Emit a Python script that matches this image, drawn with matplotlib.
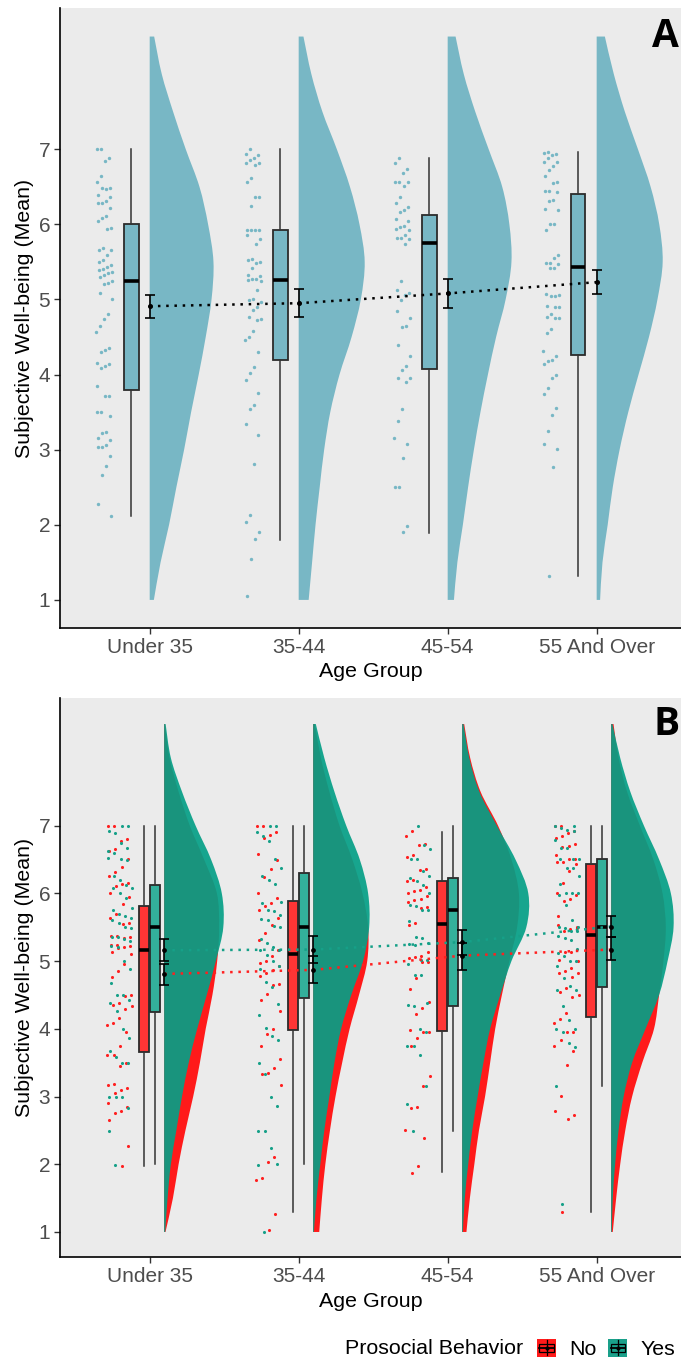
import numpy as np
import matplotlib
matplotlib.use('Agg')
import matplotlib.pyplot as plt
from matplotlib.patches import Rectangle, Patch, PathPatch
from matplotlib.path import Path
from matplotlib.lines import Line2D
from matplotlib.legend_handler import HandlerBase

plt.rcParams['font.family'] = ['Liberation Sans', 'DejaVu Sans']

# ---- data ----
groups = ['Under 35', '35-44', '45-54', '55 And Over']

# panel A, raw points per age group
a_u35 = [7.00, 7.00, 6.88, 6.84, 6.65, 6.57, 6.48, 6.47, 6.49, 6.39, 6.36, 6.31, 6.29, 6.28, 6.22,
         6.11, 6.08, 6.05, 5.95, 5.94, 5.68, 5.66, 5.66, 5.59, 5.52, 5.50, 5.46, 5.43, 5.41, 5.39,
         5.37, 5.35, 5.33, 5.30, 5.25, 5.22, 5.20, 5.08, 5.01, 4.81, 4.74, 4.65, 4.56, 4.35, 4.33,
         4.30, 4.16, 4.14, 4.12, 4.09, 3.85, 3.72, 3.72, 3.50, 3.50, 3.45, 3.24, 3.22, 3.16, 3.13,
         3.06, 3.04, 3.03, 2.92, 2.78, 2.66, 2.28, 2.12]
a_35_44 = [7.00, 6.94, 6.92, 6.88, 6.86, 6.82, 6.81, 6.79, 6.62, 6.56, 6.37, 6.37, 6.25, 5.93, 5.92,
           5.92, 5.92, 5.86, 5.81, 5.74, 5.54, 5.52, 5.50, 5.49, 5.42, 5.32, 5.31, 5.27, 5.27, 5.26,
           5.24, 5.12, 5.00, 4.99, 4.96, 4.90, 4.86, 4.77, 4.74, 4.73, 4.58, 4.50, 4.46, 4.30, 4.10,
           4.02, 3.93, 3.75, 3.59, 3.54, 3.34, 3.19, 2.81, 2.13, 2.04, 1.90, 1.81, 1.55, 1.05]
a_45_54 = [6.88, 6.81, 6.74, 6.69, 6.57, 6.57, 6.57, 6.51, 6.36, 6.29, 6.23, 6.19, 6.17, 6.07, 6.04,
           5.98, 5.96, 5.94, 5.92, 5.86, 5.82, 5.82, 5.81, 5.74, 5.25, 5.13, 5.08, 5.06, 4.99, 4.85,
           4.75, 4.64, 4.63, 4.39, 4.25, 4.11, 4.06, 3.96, 3.95, 3.90, 3.54, 3.38, 3.15, 3.08, 2.89,
           2.50, 2.50, 1.98, 1.90]
a_55_over = [6.96, 6.95, 6.94, 6.92, 6.88, 6.83, 6.83, 6.77, 6.72, 6.65, 6.56, 6.55, 6.45, 6.45, 6.43,
             6.32, 6.31, 6.21, 6.19, 6.01, 6.00, 5.93, 5.59, 5.55, 5.49, 5.48, 5.47, 5.42, 5.42, 5.07,
             5.06, 5.04, 5.04, 4.91, 4.90, 4.90, 4.81, 4.76, 4.75, 4.75, 4.61, 4.55, 4.32, 4.25, 4.19,
             4.18, 4.14, 3.99, 3.96, 3.82, 3.74, 3.56, 3.46, 3.25, 3.08, 3.01, 2.77, 1.32]

# box stats: whisker low, q1, median, q3, whisker high
a_box = [[2.12, 3.79, 5.24, 6.00, 7.00],
         [1.80, 4.20, 5.26, 5.92, 7.00],
         [1.89, 4.08, 5.75, 6.12, 6.88],
         [1.32, 4.26, 5.43, 6.41, 6.96]]
a_mean = [4.91, 4.95, 5.08, 5.23]
a_ci_lo = [4.75, 4.76, 4.89, 5.07]
a_ci_hi = [5.06, 5.14, 5.27, 5.39]

# density half-widths at these levels
dens_y = [1.0, 1.5, 2.0, 2.5, 3.0, 3.5, 4.0, 4.5, 5.0, 5.5, 6.0, 6.5, 7.0, 7.5, 8.0, 8.5]
a_dens = [[0.028, 0.073, 0.130, 0.179, 0.231, 0.278, 0.329, 0.376, 0.415, 0.428, 0.392, 0.334, 0.242, 0.157, 0.081, 0.030],
          [0.067, 0.090, 0.113, 0.141, 0.171, 0.212, 0.274, 0.355, 0.417, 0.443, 0.408, 0.344, 0.256, 0.159, 0.085, 0.032],
          [0.042, 0.065, 0.102, 0.137, 0.176, 0.220, 0.270, 0.325, 0.389, 0.428, 0.414, 0.366, 0.275, 0.185, 0.108, 0.053],
          [0.023, 0.039, 0.074, 0.108, 0.154, 0.212, 0.281, 0.351, 0.408, 0.443, 0.420, 0.362, 0.277, 0.189, 0.115, 0.055]]

# panel B, points split by prosocial behaviour
b_no_u35 = [7.00, 7.00, 6.80, 6.78, 6.66, 6.62, 6.50, 6.39, 6.32, 6.25, 6.16, 6.14, 6.11, 6.00, 5.95,
            5.84, 5.70, 5.64, 5.56, 5.55, 5.37, 5.37, 5.35, 5.34, 5.24, 5.23, 5.22, 5.21, 5.20, 5.13,
            5.11, 4.96, 4.86, 4.77, 4.50, 4.49, 4.38, 4.35, 4.33, 4.29, 4.16, 4.08, 4.06, 3.95, 3.74,
            3.62, 3.62, 3.49, 3.45, 3.19, 3.17, 3.12, 3.10, 3.05, 2.91, 2.85, 2.79, 2.76, 2.66, 2.27, 1.98]
b_yes_u35 = [7.00, 7.00, 6.92, 6.89, 6.75, 6.67, 6.62, 6.60, 6.51, 6.49, 6.52, 6.25, 6.20, 6.13, 6.08,
             6.08, 6.00, 5.93, 5.78, 5.75, 5.70, 5.66, 5.64, 5.60, 5.56, 5.50, 5.49, 5.36, 5.35, 5.32,
             5.29, 5.22, 5.21, 5.00, 4.88, 4.67, 4.50, 4.50, 4.42, 4.38, 4.26, 4.00, 3.87, 3.67, 3.59,
             3.49, 3.49, 3.00, 2.99, 2.99, 2.83, 2.49, 1.99]
b_no_35_44 = [7.00, 7.00, 6.91, 6.86, 6.81, 6.58, 6.49, 6.36, 6.24, 6.00, 5.93, 5.86, 5.82, 5.75, 5.63,
              5.53, 5.42, 5.31, 5.16, 5.07, 5.00, 4.97, 4.93, 4.87, 4.83, 4.78, 4.66, 4.64, 4.52, 4.43,
              4.27, 3.99, 3.92, 3.75, 3.56, 3.42, 3.34, 3.33, 3.17, 2.11, 2.04, 1.80, 1.77, 1.27, 1.03]
b_yes_35_44 = [7.00, 7.00, 6.91, 6.84, 6.78, 6.50, 6.37, 6.25, 6.19, 6.14, 5.87, 5.86, 5.75, 5.74, 5.68,
               5.62, 5.60, 5.52, 5.50, 5.33, 5.27, 5.21, 5.16, 5.16, 5.09, 5.00, 4.93, 4.88, 4.69, 4.61,
               4.37, 4.21, 4.01, 3.89, 3.83, 3.49, 3.33, 3.00, 2.86, 2.49, 2.49, 2.24, 2.01, 1.99, 1.00]
b_no_45_54 = [6.92, 6.85, 6.73, 6.72, 6.57, 6.54, 6.36, 6.34, 6.19, 6.18, 6.10, 6.05, 6.04, 6.00, 5.96,
              5.92, 5.90, 5.87, 5.80, 5.78, 5.56, 5.54, 5.14, 5.07, 5.06, 5.04, 4.99, 4.98, 4.75, 4.59,
              4.40, 4.31, 4.22, 3.98, 3.96, 3.95, 3.86, 3.74, 3.30, 3.15, 2.84, 2.83, 2.50, 2.39, 1.98, 1.87]
b_yes_45_54 = [7.00, 6.72, 6.65, 6.51, 6.50, 6.33, 6.25, 6.23, 6.18, 6.13, 6.00, 5.83, 5.81, 5.76, 5.76,
               5.59, 5.35, 5.34, 5.26, 5.25, 5.24, 5.02, 5.01, 4.96, 4.80, 4.80, 4.38, 4.35, 4.33, 4.00,
               3.95, 3.75, 3.75, 3.62, 3.15, 2.89, 2.49]
b_no_55_over = [7.00, 7.00, 6.92, 6.89, 6.85, 6.82, 6.73, 6.70, 6.68, 6.57, 6.51, 6.51, 6.47, 6.46, 6.44,
                6.33, 6.16, 6.00, 5.98, 5.91, 5.88, 5.66, 5.49, 5.47, 5.45, 5.54, 5.51, 5.14, 5.13, 5.01,
                5.00, 4.90, 4.85, 4.83, 4.83, 4.77, 4.60, 4.54, 4.50, 4.47, 4.23, 4.15, 4.09, 3.96, 3.96,
                3.83, 3.74, 3.67, 3.46, 3.01, 2.79, 2.72, 2.67, 1.29]
b_yes_55_over = [7.00, 6.99, 6.97, 6.94, 6.92, 6.79, 6.67, 6.67, 6.51, 6.51, 6.50, 6.37, 6.37, 6.25, 6.14,
                 6.00, 6.00, 6.00, 5.97, 5.83, 5.61, 5.50, 5.50, 5.49, 5.45, 5.44, 5.37, 5.34, 5.31, 5.18,
                 5.12, 5.07, 5.00, 5.00, 4.93, 4.75, 4.63, 4.58, 4.58, 4.33, 4.13, 4.00, 4.00, 3.95, 3.79,
                 3.73, 3.16, 1.41]

b_no_box = [[1.98, 3.66, 5.17, 5.81, 7.00],
            [1.29, 3.98, 5.10, 5.88, 7.00],
            [1.88, 3.97, 5.55, 6.18, 6.91],
            [1.30, 4.18, 5.38, 6.43, 7.00]]
b_yes_box = [[2.00, 4.25, 5.50, 6.12, 7.00],
             [2.00, 4.45, 5.50, 6.30, 7.00],
             [2.49, 4.33, 5.75, 6.22, 7.00],
             [3.16, 4.62, 5.50, 6.50, 7.00]]
b_no_mean = [4.81, 4.87, 5.08, 5.17]
b_no_lo = [4.65, 4.68, 4.87, 5.01]
b_no_hi = [4.96, 5.07, 5.27, 5.35]
b_yes_mean = [5.16, 5.17, 5.28, 5.51]
b_yes_lo = [5.00, 4.97, 5.09, 5.35]
b_yes_hi = [5.32, 5.37, 5.46, 5.67]

b_no_dens = [[0.009, 0.059, 0.097, 0.143, 0.195, 0.240, 0.279, 0.324, 0.356, 0.369, 0.354, 0.268, 0.172, 0.097, 0.036, 0.005],
             [0.041, 0.059, 0.082, 0.113, 0.150, 0.195, 0.245, 0.308, 0.363, 0.369, 0.331, 0.263, 0.177, 0.109, 0.052, 0.011],
             [0.029, 0.052, 0.082, 0.113, 0.154, 0.188, 0.222, 0.267, 0.317, 0.369, 0.381, 0.331, 0.241, 0.124, 0.054, 0.014],
             [0.011, 0.034, 0.061, 0.095, 0.141, 0.209, 0.288, 0.322, 0.351, 0.367, 0.345, 0.283, 0.193, 0.107, 0.050, 0.016]]
b_yes_dens = [[0.007, 0.023, 0.045, 0.082, 0.120, 0.165, 0.222, 0.286, 0.347, 0.397, 0.387, 0.315, 0.211, 0.120, 0.045, 0.010],
              [0.005, 0.023, 0.048, 0.075, 0.109, 0.143, 0.188, 0.256, 0.335, 0.376, 0.369, 0.313, 0.222, 0.143, 0.075, 0.018],
              [0.005, 0.018, 0.041, 0.068, 0.104, 0.143, 0.188, 0.256, 0.331, 0.431, 0.444, 0.358, 0.233, 0.116, 0.048, 0.009],
              [0.005, 0.011, 0.027, 0.050, 0.084, 0.141, 0.231, 0.322, 0.379, 0.419, 0.401, 0.322, 0.220, 0.129, 0.061, 0.009]]

a_points = [a_u35, a_35_44, a_45_54, a_55_over]
b_no_points = [b_no_u35, b_no_35_44, b_no_45_54, b_no_55_over]
b_yes_points = [b_yes_u35, b_yes_35_44, b_yes_45_54, b_yes_55_over]

# ---- styles ----
A_COL = '#78B7C5'
NO_COL = '#FF1A1A'
NO_BOX = '#FF3535'
YES_COL = '#059F86'
YES_BOX = '#33B09B'
YES_PT = '#16A088'
NO_PT = '#FF2020'
xpos = np.arange(1, 5)


def spread(n, center, half):
    # fixed horizontal spread for the raw points (stand-in for jitter)
    k = np.arange(n)
    return center + ((k * 0.7548777 + 0.31) % 1.0 - 0.5) * 2 * half


def half_violin(ax, x0, widths, **kw):
    # right-hand half violin, outline drawn as a smooth bezier through the read widths
    pts = np.column_stack([x0 + np.asarray(widths), np.asarray(dens_y)])
    n = len(pts)
    verts = [(x0, dens_y[0]), tuple(pts[0])]
    codes = [Path.MOVETO, Path.LINETO]
    for i in range(n - 1):
        p0, p1 = pts[max(i - 1, 0)], pts[i]
        p2, p3 = pts[i + 1], pts[min(i + 2, n - 1)]
        verts += [tuple(p1 + (p2 - p0) / 6), tuple(p2 - (p3 - p1) / 6), tuple(p2)]
        codes += [Path.CURVE4] * 3
    verts += [(x0, dens_y[-1]), (x0, dens_y[0])]
    codes += [Path.LINETO, Path.CLOSEPOLY]
    ax.add_patch(PathPatch(Path(verts, codes), lw=0, **kw))


def box_stats(rows):
    return [dict(whislo=r[0], q1=r[1], med=r[2], q3=r[3], whishi=r[4], fliers=[]) for r in rows]


def draw_box(ax, rows, pos, width, fc):
    ax.bxp(box_stats(rows), positions=pos, widths=width, patch_artist=True,
           showcaps=False, showfliers=False, manage_ticks=False,
           boxprops=dict(facecolor=fc, edgecolor='#2b2b2b', linewidth=1.3),
           medianprops=dict(color='black', linewidth=2.6, solid_capstyle='butt'),
           whiskerprops=dict(color='#333333', linewidth=1.1), zorder=3)


def style_axes(ax, letter, base_y):
    ax.set_facecolor('#EBEBEB')
    for s in ['top', 'right']:
        ax.spines[s].set_visible(False)
    for s in ['left', 'bottom']:
        ax.spines[s].set_color('black')
        ax.spines[s].set_linewidth(1.2)
    ax.set_xlim(0.398, 4.566)
    ax.set_ylim(0.626, 8.88)
    ax.set_xticks(xpos, groups)
    ax.set_yticks(range(1, 8))
    ax.tick_params(length=4, width=1, color='#333333', labelcolor='#4D4D4D',
                   labelsize=15, pad=3)
    ax.set_xlabel('Age Group', fontsize=15.4, labelpad=4)
    ax.set_ylabel('Subjective Well-being (Mean)', fontsize=15.4, labelpad=3)
    ax.text(0.997, base_y, letter, transform=ax.transAxes, ha='right', va='baseline',
            fontsize=28, fontweight='bold', family=['Open Sans', 'DejaVu Sans'])


class BoxKey(HandlerBase):
    def create_artists(self, legend, orig_handle, xdescent, ydescent, width, height, fontsize, trans):
        x0, y0 = -xdescent, -ydescent
        bg = Rectangle((x0, y0), width, height, facecolor=orig_handle.get_facecolor(),
                       edgecolor='none', transform=trans)
        wl = Line2D([x0 + 0.5 * width] * 2, [y0 + 0.08 * height, y0 + 0.92 * height],
                    color='black', lw=0.9, transform=trans)
        bx = Rectangle((x0 + 0.12 * width, y0 + 0.28 * height), 0.76 * width, 0.44 * height,
                       facecolor='none', edgecolor='black', lw=0.9, transform=trans)
        md = Line2D([x0 + 0.12 * width, x0 + 0.88 * width], [y0 + 0.5 * height] * 2,
                    color='black', lw=1.3, transform=trans)
        dot = Line2D([x0 + 0.5 * width], [y0 + 0.5 * height], marker='o', ms=2,
                     color='black', transform=trans)
        return [bg, wl, bx, md, dot]


fig = plt.figure(figsize=(6.81, 13.61), dpi=100)
ax_a = fig.add_axes([60 / 681, 1 - 628 / 1361, 621 / 681, 620 / 1361])
ax_b = fig.add_axes([60 / 681, 1 - 1257.3 / 1361, 621 / 681, 559 / 1361])

# ---- panel A ----
for i in range(4):
    half_violin(ax_a, xpos[i], a_dens[i], facecolor=A_COL, zorder=1)
    ax_a.scatter(spread(len(a_points[i]), xpos[i] - 0.305, 0.055), a_points[i],
                 s=6, color=A_COL, lw=0, zorder=2)
draw_box(ax_a, a_box, xpos - 0.125, 0.1, A_COL)
a_mean = np.array(a_mean)
ax_a.plot(xpos, a_mean, color='black', lw=1.8, linestyle=(0, (1, 2.3)), zorder=4)
ax_a.errorbar(xpos, a_mean, yerr=[a_mean - np.array(a_ci_lo), np.array(a_ci_hi) - a_mean],
              fmt='o', ms=2.6, color='black', ecolor='black', elinewidth=1.2,
              capsize=3.7, capthick=1.2, zorder=5)
style_axes(ax_a, 'A', 1 - 38.7 / 620)

# ---- panel B ----
for i in range(4):
    half_violin(ax_b, xpos[i] + 0.097, b_no_dens[i], facecolor=NO_COL, zorder=1)
    half_violin(ax_b, xpos[i] + 0.097, b_yes_dens[i], facecolor=YES_COL, alpha=0.92, zorder=1.1)
    ax_b.scatter(spread(len(b_no_points[i]), xpos[i] - 0.205, 0.085), b_no_points[i],
                 s=5, color=NO_PT, lw=0, zorder=2)
    ax_b.scatter(spread(len(b_yes_points[i]), xpos[i] - 0.2, 0.085)[::-1], b_yes_points[i],
                 s=5, color=YES_PT, lw=0, zorder=2)
draw_box(ax_b, b_no_box, xpos - 0.038, 0.066, NO_BOX)
draw_box(ax_b, b_yes_box, xpos + 0.036, 0.066, YES_BOX)
for m, lo, hi, c in [(b_no_mean, b_no_lo, b_no_hi, NO_PT), (b_yes_mean, b_yes_lo, b_yes_hi, YES_PT)]:
    m = np.array(m)
    ax_b.plot(xpos + 0.097, m, color=c, lw=1.8, linestyle=(0, (1, 2.3)), zorder=4)
    ax_b.errorbar(xpos + 0.097, m, yerr=[m - np.array(lo), np.array(hi) - m],
                  fmt='o', ms=2.4, color='black', ecolor='black', elinewidth=1.2,
                  capsize=3.8, capthick=1.2, zorder=5)
style_axes(ax_b, 'B', 1 - 36.7 / 559)

# ---- legend ----
fig.text(345 / 681, 1 - 1349 / 1361, 'Prosocial Behavior', fontsize=15.4, ha='left', va='center')
handles = [Patch(facecolor=NO_COL), Patch(facecolor='#1AA08A')]
fig.legend(handles, ['No', 'Yes'], handler_map={Patch: BoxKey()}, ncol=2,
           loc='center left', bbox_to_anchor=(537 / 681, 1 - 1349 / 1361),
           frameon=False, fontsize=15.4, handlelength=0.9, handleheight=0.9,
           handletextpad=0.6, columnspacing=0.55, borderpad=0, borderaxespad=0)

fig.savefig('out.png', dpi=100)
